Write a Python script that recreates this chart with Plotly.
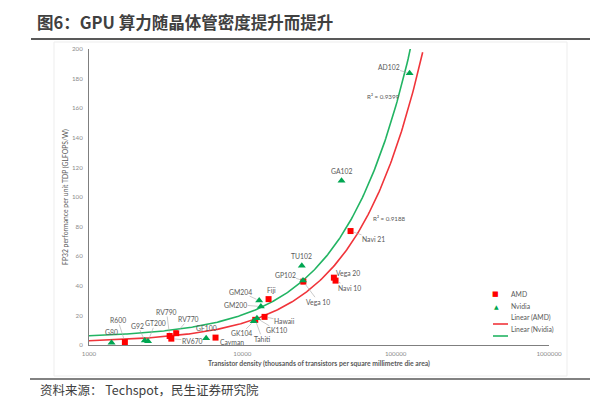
import numpy as np
import plotly.graph_objects as go

# ---------------- data ----------------
amd_names = ["R600", "RV670", "RV770", "RV790", "Cayman", "Tahiti", "Hawaii",
             "Fiji", "Vega 10", "Vega 20", "Navi 10", "Navi 21"]
amd_density = [1714, 3443, 3705, 3357, 6686, 12140, 13960,
               14830, 25000, 39540, 40550, 50790]
amd_perf = [2.0, 4.3, 8.0, 6.1, 5.0, 17.0, 19.0,
            31.0, 42.8, 45.5, 43.5, 77.0]

nv_names = ["G80", "G92", "GT200", "GF100", "GK104", "GK110", "GM204",
            "GM200", "GP102", "TU102", "GA102", "AD102"]
nv_density = [1403, 2311, 2427, 5809, 11860, 12450, 12880,
              13210, 24880, 24430, 44370, 123300]
nv_perf = [1.5, 3.0, 2.5, 4.5, 16.0, 18.0, 30.0,
           26.0, 43.5, 53.6, 111.0, 183.6]

r2_amd_text = "R² = 0.9188"
r2_nv_text = "R² = 0.9399"

x_tick_vals = [1000, 10000, 100000, 1000000]
x_tick_text = ["1000", "10000", "100000", "1000000"]
y_tick_vals = list(range(0, 201, 20))

trend_x_start = 1000
trend_x_end = 150000

title_text = "图6：GPU 算力随晶体管密度提升而提升"
source_text = "资料来源： Techspot，民生证券研究院"
x_title = "Transistor density (thousands of transistors per square millimetre die area)"
y_title = "FP32 performance per unit TDP (GLFOPS/W)"

# ---------------- label placement (pixel offsets, layout only) ----------------
label_offsets = {
    "G80": (0, -11), "R600": (-7, -22), "G92": (-7, -15), "GT200": (7, -18),
    "RV790": (-3, -24), "RV770": (12, -14), "RV670": (21, 2), "GF100": (0, -10),
    "Cayman": (16, 4), "GM204": (-19, -9), "GM200": (-25, -2), "Fiji": (3, -9),
    "Hawaii": (20, 4), "GK110": (20, 12), "GK104": (-12, 12), "Tahiti": (7, 19),
    "TU102": (0, -10), "GP102": (-18, -6), "Vega 10": (15, 20), "Vega 20": (14, -5),
    "Navi 10": (14, 7), "Navi 21": (23, 8), "GA102": (0, -10), "AD102": (-21, -6),
}
no_leader = {"G80", "GF100", "TU102", "GA102", "Fiji"}

RED = "#FF0000"
GREEN = "#00A651"
RED_LINE = "#F0343A"
GREEN_LINE = "#22B463"
TXT = "#595959"
FONT = "Lato"

fig = go.Figure()

# linear trendlines fitted from data
tx = np.logspace(np.log10(trend_x_start), np.log10(trend_x_end), 300)
b_a, a_a = np.polyfit(amd_density, amd_perf, 1)
b_n, a_n = np.polyfit(nv_density, nv_perf, 1)

fig.add_trace(go.Scatter(x=tx, y=a_a + b_a * tx, mode="lines",
                         line=dict(color=RED_LINE, width=1.6),
                         name="Linear (AMD)", showlegend=False, hoverinfo="skip"))
fig.add_trace(go.Scatter(x=tx, y=a_n + b_n * tx, mode="lines",
                         line=dict(color=GREEN_LINE, width=1.6),
                         name="Linear (Nvidia)", showlegend=False, hoverinfo="skip"))

fig.add_trace(go.Scatter(x=amd_density, y=amd_perf, mode="markers", name="AMD",
                         marker=dict(symbol="square", size=6, color=RED),
                         showlegend=False, text=amd_names))
fig.add_trace(go.Scatter(x=nv_density, y=nv_perf, mode="markers", name="Nvidia",
                         marker=dict(symbol="triangle-up", size=7, color=GREEN),
                         showlegend=False, text=nv_names))

annotations = []
for names, xs, ys in ((amd_names, amd_density, amd_perf), (nv_names, nv_density, nv_perf)):
    for n, xv, yv in zip(names, xs, ys):
        ax, ay = label_offsets[n]
        if n in no_leader:
            annotations.append(dict(x=np.log10(xv), y=yv, text=n, showarrow=False,
                                    xshift=ax, yshift=-ay,
                                    font=dict(family=FONT, size=6.8, color=TXT)))
        else:
            annotations.append(dict(x=np.log10(xv), y=yv, text=n, showarrow=True,
                                    ax=ax, ay=ay, arrowhead=0, arrowwidth=0.6,
                                    arrowcolor="#A6A6A6", standoff=3, borderpad=0,
                                    font=dict(family=FONT, size=6.8, color=TXT)))


def px_x(p):
    return (p - 89) / 460.0


def px_y(p):
    return (345 - p) / 296.0


# R squared labels
annotations.append(dict(xref="paper", yref="paper", x=px_x(383), y=px_y(91), text=r2_nv_text,
                        showarrow=False, font=dict(family=FONT, size=6.2, color=TXT)))
annotations.append(dict(xref="paper", yref="paper", x=px_x(389), y=px_y(218), text=r2_amd_text,
                        showarrow=False, font=dict(family=FONT, size=6.2, color=TXT)))

# manual legend
leg_items = [("AMD", "■", RED), ("Nvidia", "▲", GREEN), ("Linear (AMD)", None, RED_LINE),
             ("Linear (Nvidia)", None, GREEN_LINE)]
shapes = []
for i, (lab, sym, col) in enumerate(leg_items):
    yy = px_y(300 + 12 * i)
    if sym:
        annotations.append(dict(xref="paper", yref="paper", x=px_x(500.5), y=yy, text=sym,
                                showarrow=False,
                                font=dict(family="DejaVu Sans", size=6 if sym == "▲" else 7, color=col)))
    else:
        shapes.append(dict(type="line", xref="paper", yref="paper", x0=px_x(493), x1=px_x(508),
                           y0=yy, y1=yy, line=dict(color=col, width=1.6)))
    annotations.append(dict(xref="paper", yref="paper", x=px_x(509), y=yy, text=lab, xanchor="left",
                            showarrow=False, font=dict(family=FONT, size=6.8, color=TXT)))

# source footer
annotations.append(dict(xref="paper", yref="paper", x=px_x(38), y=px_y(389), text=source_text,
                        xanchor="left", yanchor="middle", showarrow=False,
                        font=dict(family="Noto Sans CJK SC", size=12.5, color="#404040")))

# frame lines
shapes.append(dict(type="rect", xref="paper", yref="paper", x0=px_x(54), x1=px_x(567),
                   y0=px_y(376), y1=px_y(42), line=dict(color="#EDEDED", width=1), layer="below"))
shapes.append(dict(type="line", xref="paper", yref="paper", x0=px_x(31), x1=px_x(590),
                   y0=px_y(39), y1=px_y(39), line=dict(color="#595959", width=2)))
shapes.append(dict(type="line", xref="paper", yref="paper", x0=px_x(30), x1=px_x(590),
                   y0=px_y(379), y1=px_y(379), line=dict(color="#595959", width=1.5)))

fig.update_layout(
    width=605, height=398,
    margin=dict(l=89, r=56, t=49, b=53),
    paper_bgcolor="white", plot_bgcolor="white",
    showlegend=False,
    title=dict(text="<b>" + title_text + "</b>", xref="container", yref="container",
               x=37 / 605, xanchor="left", y=1 - 23 / 398, yanchor="middle",
               font=dict(family="Noto Sans CJK SC", size=16.5, color="#404040")),
    xaxis=dict(type="log", range=[3, 6], tickvals=x_tick_vals, ticktext=x_tick_text,
               showline=True, linecolor="#7F7F7F", linewidth=1, showgrid=False, zeroline=False,
               ticks="outside", ticklen=3, tickcolor="rgba(0,0,0,0)",
               tickfont=dict(family=FONT, size=6.2, color="#8C8C8C"),
               title=dict(text="<b>" + x_title + "</b>", standoff=4,
                          font=dict(family=FONT, size=6.8, color=TXT))),
    yaxis=dict(range=[0, 200], tickvals=y_tick_vals,
               showline=True, linecolor="#7F7F7F", linewidth=1, showgrid=False, zeroline=False,
               ticks="outside", ticklen=4, tickcolor="rgba(0,0,0,0)",
               tickfont=dict(family=FONT, size=6.2, color="#8C8C8C"),
               title=dict(text=y_title, standoff=2,
                          font=dict(family=FONT, size=6.8, color=TXT))),
    annotations=annotations,
    shapes=shapes,
)

fig.write_html("out.html", config={"displayModeBar": False},
               post_script="document.body.style.margin='0';document.body.style.overflow='hidden';")
